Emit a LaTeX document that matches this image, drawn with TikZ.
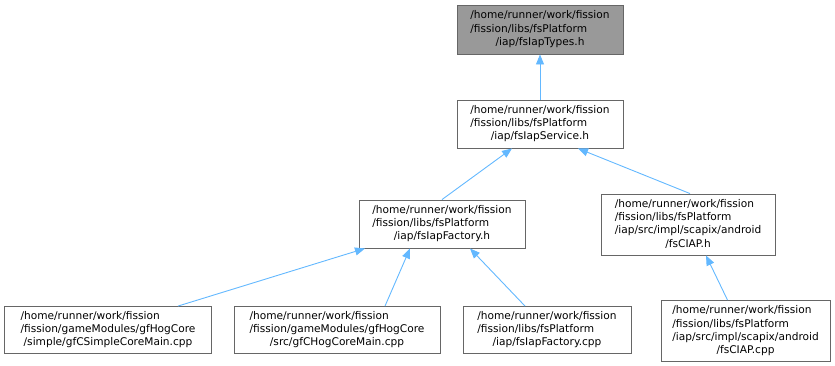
\documentclass[tikz,border=0pt]{standalone}
\usepackage{fontspec}
\setmainfont{DejaVu Sans}
\usetikzlibrary{arrows.meta}
\definecolor{boxline}{HTML}{666666}
\definecolor{boxfill}{HTML}{999999}
\definecolor{incl}{HTML}{63B8FF}
\newcommand{\lbl}[2]{\begin{tabular}{@{}l@{}}#1\multicolumn{1}{@{}c@{}}{#2}\end{tabular}}
\tikzset{
  filebox/.style={draw=boxline, line width=0.9pt, fill=white, rectangle, inner sep=0pt,
    font=\fontsize{10.6}{13.3}\selectfont},
  curfile/.style={filebox, fill=boxfill},
  inclarrow/.style={draw=incl, line width=0.9pt, {Triangle[length=10pt,width=8pt]}-}
}
\begin{document}
\begin{tikzpicture}[x=1pt,y=-1pt]
\useasboundingbox (0,0) rectangle (835,365);
\node[curfile, minimum width=166, minimum height=49] (types) at (540,29.5)
  {\lbl{/home/runner/work/fission\\/fission/libs/fsPlatform\\}{/iap/fsIapTypes.h}};
\node[filebox, minimum width=166, minimum height=48] (service) at (540,124)
  {\lbl{/home/runner/work/fission\\/fission/libs/fsPlatform\\}{/iap/fsIapService.h}};
\node[filebox, minimum width=166, minimum height=48] (factory) at (442,224)
  {\lbl{/home/runner/work/fission\\/fission/libs/fsPlatform\\}{/iap/fsIapFactory.h}};
\node[filebox, minimum width=174, minimum height=61] (ciaph) at (688,224.5)
  {\lbl{/home/runner/work/fission\\/fission/libs/fsPlatform\\/iap/src/impl/scapix/android\\}{/fsCIAP.h}};
\node[filebox, minimum width=207, minimum height=47] (simple) at (108,330)
  {\lbl{/home/runner/work/fission\\/fission/gameModules/gfHogCore\\}{/simple/gfCSimpleCoreMain.cpp}};
\node[filebox, minimum width=206, minimum height=47] (hog) at (337,330)
  {\lbl{/home/runner/work/fission\\/fission/gameModules/gfHogCore\\}{/src/gfCHogCoreMain.cpp}};
\node[filebox, minimum width=168, minimum height=47] (ifcpp) at (547,330)
  {\lbl{/home/runner/work/fission\\/fission/libs/fsPlatform\\}{/iap/fsIapFactory.cpp}};
\node[filebox, minimum width=169, minimum height=61] (ciapcpp) at (745.5,331)
  {\lbl{/home/runner/work/fission\\/fission/libs/fsPlatform\\/iap/src/impl/scapix/android\\}{/fsCIAP.cpp}};
\draw[inclarrow] (types.south) -- (service.north);
\draw[inclarrow] ([xshift=-28pt]service.south) -- (factory.north);
\draw[inclarrow] ([xshift=38pt]service.south) -- ([xshift=2pt]ciaph.north);
\draw[inclarrow] ([xshift=-77pt]factory.south) -- ([xshift=70pt]simple.north);
\draw[inclarrow] ([xshift=-32pt]factory.south) -- ([xshift=48pt]hog.north);
\draw[inclarrow] ([xshift=28pt]factory.south) -- ([xshift=-22pt]ifcpp.north);
\draw[inclarrow] ([xshift=18pt]ciaph.south) -- ([xshift=-18pt]ciapcpp.north);
\end{tikzpicture}
\end{document}
